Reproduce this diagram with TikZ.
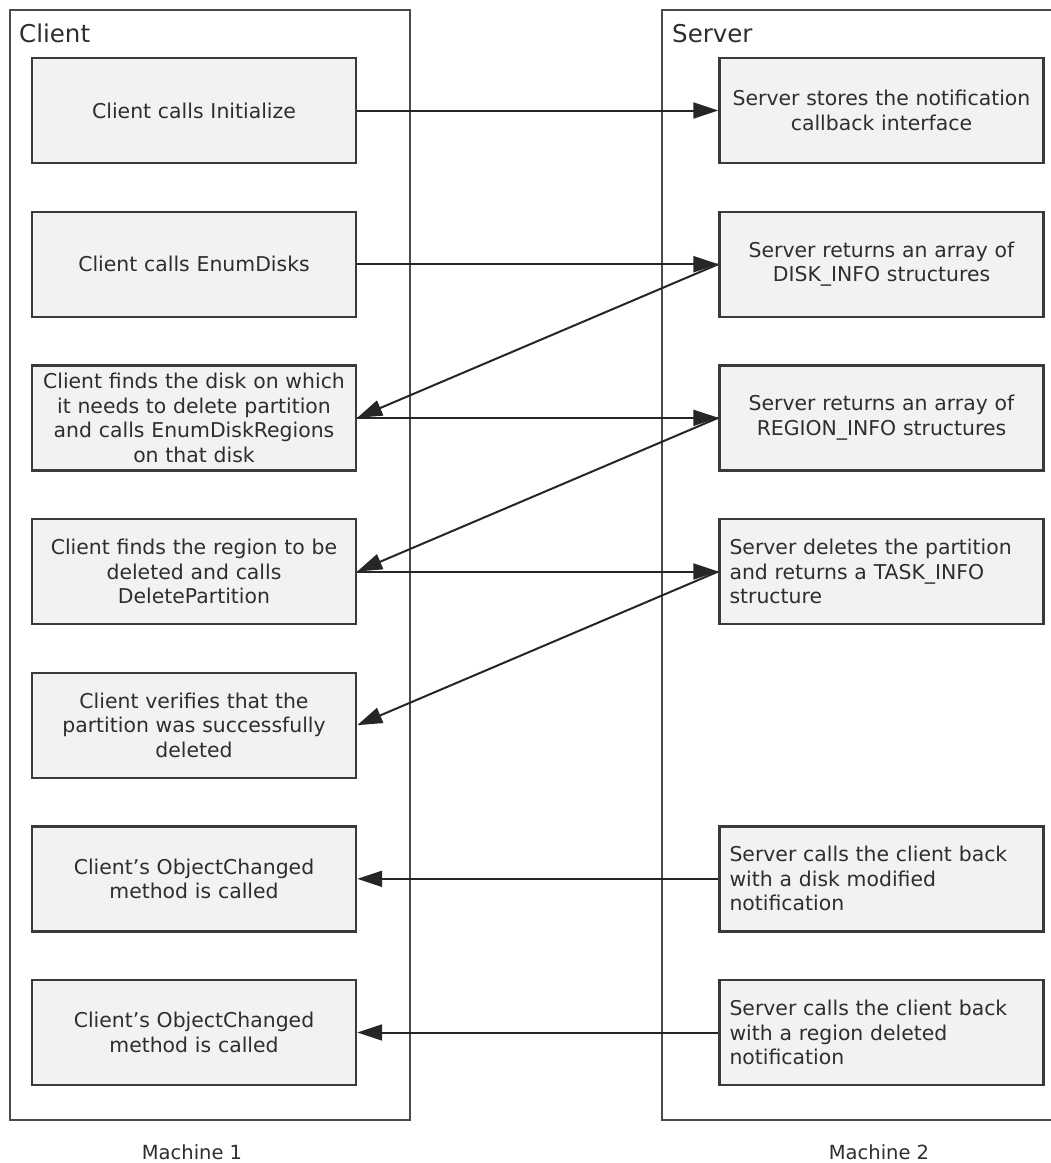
\documentclass[tikz,border=0pt]{standalone}
\usepackage{fontspec}
\setmainfont{DejaVu Sans}
\usetikzlibrary{arrows.meta}
\definecolor{boxfill}{HTML}{F2F2F2}
\definecolor{boxline}{HTML}{3A3A3A}
\definecolor{txt}{HTML}{2E2E2E}
\definecolor{contline}{HTML}{4A4A4A}
\begin{document}
\begin{tikzpicture}[x=1pt,y=-1pt,
  stepbox/.style={draw=boxline, line width=2.4pt, fill=boxfill,
    minimum width=324pt, minimum height=105pt, text width=304pt,
    inner xsep=10pt, inner ysep=0pt, align=center,
    font=\fontsize{20.4}{24.5}\selectfont, text=txt},
  leftbox/.style={stepbox, align=left},
  container/.style={draw=contline, line width=2.2pt, fill=none},
  contlabel/.style={anchor=base west, inner sep=0pt, text=txt,
    font=\fontsize{24.5}{28}\selectfont},
  machlabel/.style={inner sep=0pt, text=txt, font=\fontsize{19.5}{23}\selectfont},
  arr/.style={-{Triangle[length=25pt,width=16pt]}, line width=2pt, draw=black!85}]
\useasboundingbox (0,0) rectangle (1051,1163);
\clip (0,0) rectangle (1051,1163);
% containers
\draw[container] (10,10) rectangle (410,1120);
\draw[container] (662,10) rectangle (1054,1120);
\node[contlabel] (clientlbl) at (19,42) {Client};
\node[contlabel] (serverlbl) at (672,42) {Server};
% client boxes
\node[stepbox] (c1) at (194,110.5) {Client calls Initialize};
\node[stepbox] (c2) at (194,264.2) {Client calls EnumDisks};
\node[stepbox] (c3) at (194,417.8) {Client finds the disk on which\\it needs to delete partition\\and calls EnumDiskRegions\\on that disk};
\node[stepbox] (c4) at (194,571.5) {Client finds the region to be\\deleted and calls\\DeletePartition};
\node[stepbox] (c5) at (194,725.2) {Client verifies that the\\partition was successfully\\deleted};
\node[stepbox] (c6) at (194,878.8) {Client’s ObjectChanged\\method is called};
\node[stepbox] (c7) at (194,1032.5) {Client’s ObjectChanged\\method is called};
% server boxes
\node[stepbox] (s1) at (881.5,110.5) {Server stores the notification\\callback interface};
\node[stepbox] (s2) at (881.5,264.2) {Server returns an array of\\DISK\_INFO structures};
\node[stepbox] (s3) at (881.5,417.8) {Server returns an array of\\REGION\_INFO structures};
\node[leftbox] (s4) at (881.5,571.5) {Server deletes the partition\\and returns a TASK\_INFO\\structure};
\node[leftbox] (s6) at (881.5,878.8) {Server calls the client back\\with a disk modified\\notification};
\node[leftbox] (s7) at (881.5,1032.5) {Server calls the client back\\with a region deleted\\notification};
% machine labels
\node[machlabel] (m1) at (192,1152) {Machine 1};
\node[machlabel] (m2) at (879,1152) {Machine 2};
% connectors
\draw[arr] (c1.east) -- (s1.west);
\draw[arr] (c2.east) -- (s2.west);
\draw[arr] (s2.west) -- (c3.east);
\draw[arr] (c3.east) -- (s3.west);
\draw[arr] (s3.west) -- (c4.east);
\draw[arr] (c4.east) -- (s4.west);
\draw[arr] (s4.west) -- (c5.east);
\draw[arr] (s6.west) -- (c6.east);
\draw[arr] (s7.west) -- (c7.east);
\end{tikzpicture}
\end{document}
